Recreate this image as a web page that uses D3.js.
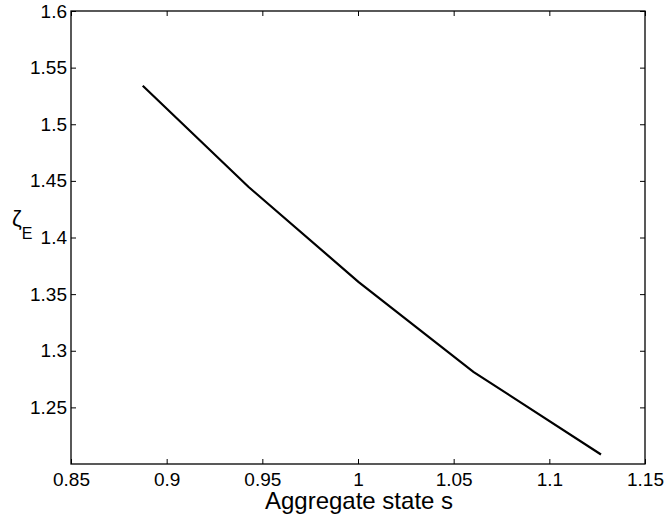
<!DOCTYPE html>
<html>
<head>
<meta charset="utf-8">
<script src="https://cdn.jsdelivr.net/npm/d3@7"></script>
<style>
  body { margin: 0; background: #fff; }
  text { font-family: "Liberation Sans", Arial, sans-serif; }
</style>
</head>
<body>
<div id="chart"></div>
<script>
// Data
var sVals = [0.8875, 0.9427, 1.0002, 1.0603, 1.127];
var zetaVals = [1.534, 1.4448, 1.3609, 1.2814, 1.2084];
var xTicks = [0.85, 0.9, 0.95, 1, 1.05, 1.1, 1.15];
var yTicks = [1.25, 1.3, 1.35, 1.4, 1.45, 1.5, 1.55, 1.6];

// Set up SVG params
var svgWdt = 667;
var svgHgt = 523;
var margins = { top: 11, right: 22, bottom: 59, left: 71 };
var chtWdt = svgWdt - margins.left - margins.right;
var chtHgt = svgHgt - margins.top - margins.bottom;

var svg = d3.select("#chart").append("svg")
    .attr("width", svgWdt)
    .attr("height", svgHgt);

var chtGrp = svg.append("g")
    .attr("transform", `translate(${margins.left}, ${margins.top})`);

var xScale = d3.scaleLinear().domain([0.85, 1.15]).range([0, chtWdt]);
var yScale = d3.scaleLinear().domain([1.2, 1.6]).range([chtHgt, 0]);

var tickLen = 5;
var fmt = d => String(+d.toFixed(2));

// Bottom and left axes, ticks pointing inward
var botAx = chtGrp.append("g")
    .attr("transform", `translate(0, ${chtHgt})`)
    .call(d3.axisBottom(xScale).tickValues(xTicks).tickFormat(fmt)
        .tickSizeInner(-tickLen).tickSizeOuter(0).tickPadding(9));
var lftAx = chtGrp.append("g")
    .call(d3.axisLeft(yScale).tickValues(yTicks).tickFormat(fmt)
        .tickSizeInner(-tickLen).tickSizeOuter(0).tickPadding(4));
// Top and right axes, no labels
chtGrp.append("g")
    .call(d3.axisTop(xScale).tickValues(xTicks).tickFormat("")
        .tickSizeInner(-tickLen).tickSizeOuter(0));
chtGrp.append("g")
    .attr("transform", `translate(${chtWdt}, 0)`)
    .call(d3.axisRight(yScale).tickValues(yTicks).tickFormat("")
        .tickSizeInner(-tickLen).tickSizeOuter(0));

chtGrp.selectAll(".tick text")
    .style("font-size", "19px")
    .attr("fill", "#000");
chtGrp.selectAll(".tick line").attr("stroke", "#000");
chtGrp.selectAll(".domain").remove();

// Box around the plot
chtGrp.append("rect")
    .attr("x", 0).attr("y", 0)
    .attr("width", chtWdt).attr("height", chtHgt)
    .attr("fill", "none")
    .attr("stroke", "#000")
    .attr("stroke-width", 1.3);

// The curve
var pts = sVals.map((s, i) => [s, zetaVals[i]]);
chtGrp.append("path")
    .datum(pts)
    .attr("d", d3.line().x(d => xScale(d[0])).y(d => yScale(d[1])))
    .attr("fill", "none")
    .attr("stroke", "#000")
    .attr("stroke-width", 2.2);

// Axis labels
svg.append("text")
    .attr("x", margins.left + chtWdt / 2 + 1)
    .attr("y", 509)
    .attr("text-anchor", "middle")
    .style("font-size", "24px")
    .text("Aggregate state s");

var yLbl = svg.append("text")
    .attr("x", 12)
    .attr("y", 226)
    .style("font-size", "22px");
yLbl.append("tspan").text("\u03B6");
yLbl.append("tspan").attr("dy", 13).style("font-size", "16px").text("E");
</script>
</body>
</html>
